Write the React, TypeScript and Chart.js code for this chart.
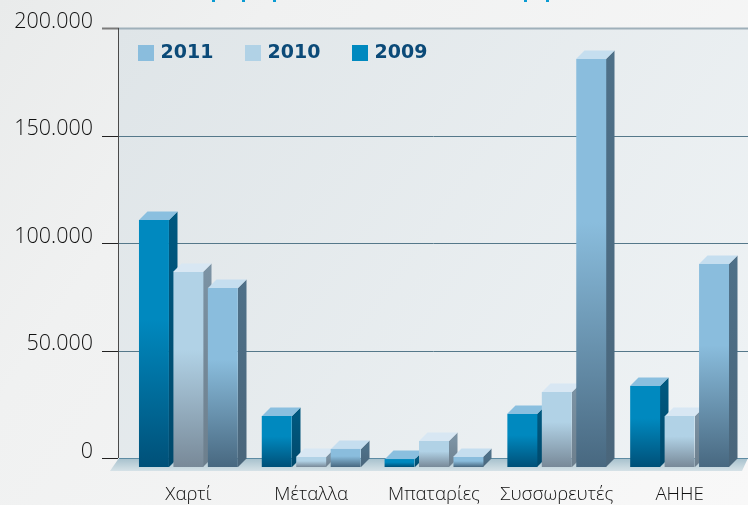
import React, { useEffect, useRef } from "react";
import { Chart, registerables } from "chart.js";

Chart.register(...registerables);

const categories = ["Χαρτί", "Μέταλλα", "Μπαταρίες", "Συσσωρευτές", "ΑΗΗΕ"];
const values2009 = [114900, 23700, 3700, 24650, 37700];
const values2010 = [90700, 4650, 12100, 34900, 23700];
const values2011 = [83300, 8400, 4650, 189800, 94400];
const axisTicks = [0, 50000, 100000, 150000, 200000];

const DEPTH_X = 8.5;
const DEPTH_Y = 8.5;

const palette = [
  { front: "#0089bf", low: "#005078", top: "#8abfdf", side: "#00587f", sideLow: "#00496c" },
  { front: "#b1d2e6", low: "#788998", top: "#d8e7f3", side: "#7b92a3", sideLow: "#6d7f8d" },
  { front: "#8abddd", low: "#486880", top: "#c5deef", side: "#4e7088", sideLow: "#4a667b" },
];

const fmt = (v: number) => (v === 0 ? "0" : v.toLocaleString("de-DE"));

const scene = {
  id: "scene",
  beforeDraw(chart: any) {
    const { ctx, width, height } = chart;
    const y = chart.scales.y;
    const zero = y.getPixelForValue(0);
    const top = y.getPixelForValue(200000);
    ctx.save();
    const bg = ctx.createLinearGradient(0, 0, width, height);
    bg.addColorStop(0, "#e9ebeb");
    bg.addColorStop(0.25, "#f0f1f1");
    bg.addColorStop(1, "#f8f8f8");
    ctx.fillStyle = bg;
    ctx.fillRect(0, 0, width, height);

    ctx.fillStyle = "#0a9bd2";
    for (const x of [212, 242, 273, 524, 546]) ctx.fillRect(x, 0, 3, 2);

    const wall = ctx.createLinearGradient(119, top, width, zero);
    wall.addColorStop(0, "#dfe5e8");
    wall.addColorStop(1, "#eff3f5");
    ctx.fillStyle = wall;
    ctx.fillRect(119, top, width - 119, zero - top);

    const floor = ctx.createLinearGradient(0, zero, 0, zero + 13);
    floor.addColorStop(0, "#a5c0cc");
    floor.addColorStop(1, "#d6e2e7");
    ctx.fillStyle = floor;
    ctx.beginPath();
    ctx.moveTo(119, zero);
    ctx.lineTo(width, zero);
    ctx.lineTo(742, zero + 13);
    ctx.lineTo(110, zero + 13);
    ctx.closePath();
    ctx.fill();

    // grid lines
    for (const v of axisTicks) {
      const py = Math.round(y.getPixelForValue(v)) + 0.5;
      ctx.lineWidth = 1;
      ctx.strokeStyle = "#222222";
      ctx.beginPath();
      ctx.moveTo(102, py);
      ctx.lineTo(118, py);
      ctx.stroke();
      if (v === 200000) {
        ctx.fillStyle = "#9fb0ba";
        ctx.fillRect(119, py - 1, width - 119, 2);
        ctx.fillStyle = "#7b7b7b";
        ctx.fillRect(102, py - 1, 17, 2);
      } else {
        ctx.strokeStyle = v === 0 ? "#5d8ba3" : "#55788a";
        ctx.beginPath();
        ctx.moveTo(119, py);
        ctx.lineTo(width, py);
        ctx.stroke();
      }
    }
    ctx.fillStyle = "#4a4a4a";
    ctx.fillRect(118, top, 1, zero - top);
    ctx.restore();
  },
  beforeDatasetsDraw(chart: any) {
    const { ctx } = chart;
    ctx.save();
    chart.data.datasets.forEach((_: any, d: number) => {
      chart.getDatasetMeta(d).data.forEach((bar: any) => {
        const x0 = Math.round(bar.x - bar.width / 2);
        const x1 = Math.round(bar.x + bar.width / 2);
        const t = bar.y;
        const b = bar.base;
        if (![x0, x1, t, b].every(Number.isFinite)) return;
        const c = palette[d];
        const g = ctx.createLinearGradient(0, t, 0, b);
        g.addColorStop(0, c.side);
        g.addColorStop(1, c.sideLow);
        ctx.fillStyle = g;
        ctx.beginPath();
        ctx.moveTo(x1, t);
        ctx.lineTo(x1 + DEPTH_X, t - DEPTH_Y);
        ctx.lineTo(x1 + DEPTH_X, b - DEPTH_Y);
        ctx.lineTo(x1, b);
        ctx.closePath();
        ctx.fill();
        ctx.fillStyle = c.top;
        ctx.beginPath();
        ctx.moveTo(x0, t);
        ctx.lineTo(x0 + DEPTH_X, t - DEPTH_Y);
        ctx.lineTo(x1 + DEPTH_X, t - DEPTH_Y);
        ctx.lineTo(x1, t);
        ctx.closePath();
        ctx.fill();
      });
    });
    ctx.restore();
  },
  afterDraw(chart: any) {
    const { ctx } = chart;
    const slots = [
      { d: 2, x: 138 },
      { d: 1, x: 245 },
      { d: 0, x: 352 },
    ];
    ctx.save();
    ctx.font = "bold 19px 'DejaVu Sans'";
    ctx.textBaseline = "middle";
    ctx.textAlign = "left";
    for (const s of slots) {
      ctx.fillStyle = palette[s.d].front;
      ctx.fillRect(s.x, 45, 16, 16);
      ctx.fillStyle = "#0b4a78";
      ctx.fillText(chart.data.datasets[s.d].label, s.x + 22.5, 53.5);
    }
    ctx.restore();
  },
};

function barFill(d: number) {
  return (context: any) => {
    const chart = context.chart;
    const scale = chart.scales.y1;
    if (!scale || typeof context.raw !== "number") return palette[d].front;
    const t = scale.getPixelForValue(context.raw);
    const b = scale.getPixelForValue(0);
    if (!Number.isFinite(t) || !Number.isFinite(b)) return palette[d].front;
    const g = chart.ctx.createLinearGradient(0, t, 0, b);
    g.addColorStop(0, palette[d].front);
    g.addColorStop(0.4, palette[d].front);
    g.addColorStop(1, palette[d].low);
    return g;
  };
}

const noPadding = (s: any) => {
  s.paddingTop = 0;
  s.paddingBottom = 0;
  s.paddingLeft = 0;
  s.paddingRight = 0;
};

export default function App() {
  const ref = useRef<HTMLCanvasElement>(null);
  useEffect(() => {
    const chart = new Chart(ref.current as HTMLCanvasElement, {
      type: "bar",
      data: {
        labels: categories,
        datasets: [
          { label: "2009", data: values2009, backgroundColor: barFill(0), yAxisID: "y1" },
          { label: "2010", data: values2010, backgroundColor: barFill(1), yAxisID: "y1" },
          { label: "2011", data: values2011, backgroundColor: barFill(2), yAxisID: "y1" },
        ],
      },
      options: {
        responsive: false,
        animation: false,
        layout: { padding: { top: 28, right: 7, left: 0, bottom: 0 } },
        datasets: { bar: { categoryPercentage: 0.8415, barPercentage: 0.87 } },
        plugins: { legend: { display: false }, tooltip: { enabled: false } },
        scales: {
          x: {
            grid: { display: false, drawTicks: false },
            border: { display: false },
            ticks: {
              color: "#111111",
              font: { family: "'Open Sans'", size: 18.7, weight: "300" },
              padding: 16,
              maxRotation: 0,
              autoSkip: false,
            },
            afterFit: (s: any) => {
              s.height = 38;
              noPadding(s);
            },
          },
          y: {
            position: "left",
            min: -4186,
            max: 200000,
            grid: { display: false, drawTicks: false },
            border: { display: false },
            afterBuildTicks: (s: any) => {
              s.ticks = axisTicks.map((value) => ({ value }));
            },
            afterFit: (s: any) => {
              s.width = 127;
              noPadding(s);
            },
            ticks: {
              color: "#111111",
              font: { family: "'Open Sans'", size: 21.5, weight: "300" },
              padding: 34,
              labelOffset: -6.5,
              callback: (v: any) => fmt(Number(v)),
            },
          },
          y1: { display: false, min: 0, max: 204186 },
        },
      },
      plugins: [scene],
    } as any);
    return () => chart.destroy();
  }, []);
  return (
    <canvas
      ref={ref}
      width={748}
      height={505}
      style={{ position: "fixed", left: 0, top: 0, width: 748, height: 505, display: "block" }}
    />
  );
}
